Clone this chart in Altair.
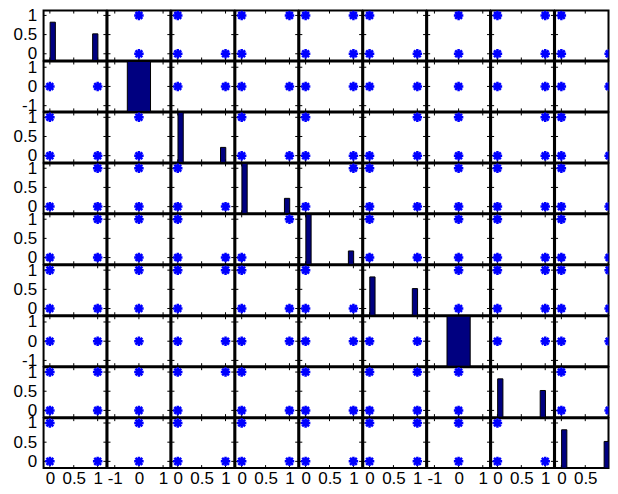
import altair as alt
import pandas as pd

# ---- data (MATLAB-style plotmatrix of 9 variables) ----
NVAR = 9
is_const = [False, True, False, False, False, False, True, False, False]
# histogram counts: bin at 0 and bin at 1 (constant vars: one bar centred on 0)
hist_zero = [23, 39, 30, 30, 30, 23, 39, 23, 23]
hist_one = [16, 0, 9, 9, 8, 16, 0, 16, 16]
hist_top = [30, 39, 30, 30, 30, 30, 39, 30, 30]
# bars of the 0/1 histograms (bin edges) and of the constant ones
bin_lo = [0.005, 0.895]
bin_hi = [0.115, 1.005]
const_bin = [-0.48, 0.48]
# scatter cells: flags for corners (x,y) = (0,0), (1,0), (0,1), (1,1); "-" = diagonal
patterns = [
    ["-", "1010", "1110", "1011", "1111", "1110", "1010", "1111", "1110"],
    ["1100", "-", "1100", "1100", "1100", "1100", "1000", "1100", "1100"],
    ["1110", "1010", "-", "1110", "1110", "1101", "1010", "1101", "1110"],
    ["1101", "1010", "1110", "-", "1001", "1110", "1010", "1110", "1110"],
    ["1101", "1010", "1110", "1001", "-", "1110", "1010", "1110", "1110"],
    ["1110", "1010", "1011", "1110", "1110", "-", "1010", "1111", "1111"],
    ["1100", "1000", "1100", "1100", "1100", "1100", "-", "1100", "1100"],
    ["1111", "1010", "1011", "1110", "1110", "1111", "1010", "-", "1110"],
    ["1110", "1010", "1110", "1110", "1110", "1111", "1010", "1110", "-"],
]
corner_x = [0, 1, 0, 1]
corner_y = [0, 0, 1, 1]
bin_ticks = [0, 0.5, 1]
const_ticks = [-1, 0, 1]

# ---- styling / geometry ----
W, H = 62.9, 50.0
W_LAST = 53.5          # last column is cut off by the window edge in the reference
X0, XSPAN = -0.132, 1.315
BIN_Y = [-0.175, 1.127]
CONST_D = [-1.3, 1.3]
FONT = "Liberation Sans"
STAR = "M-1,0L1,0M0,-1L0,1M-0.72,-0.72L0.72,0.72M-0.72,0.72L0.72,-0.72"
LBL = "datum.value < 0 ? '-' + format(-datum.value, '~g') : format(datum.value, '~g')"


def make_axis(vals, pad, last=False):
    kw = dict(values=vals, labelExpr=LBL, ticks=False, domain=False, grid=False,
              labelFont=FONT, labelFontSize=17, labelColor="black",
              labelPadding=pad, labelOverlap=False, labelBound=False,
              labelFlush=False, title=None)
    if last:
        kw["labelAlign"] = alt.ExprRef(expr="datum.value == 1 ? 'right' : 'center'")
        kw["labelOffset"] = alt.ExprRef(expr="datum.value == 1 ? -1 : 0")
    return alt.Axis(**kw)


def make_panel(i, j):
    last = j == NVAR - 1
    w = W_LAST if last else W
    if is_const[j]:
        xd = CONST_D
    else:
        xd = [X0, X0 + XSPAN * w / W]
    yd = CONST_D if is_const[i] else BIN_Y
    xt = const_ticks if is_const[j] else bin_ticks
    yt = const_ticks if is_const[i] else bin_ticks
    xaxis = make_axis(xt, 2, last) if i == NVAR - 1 else None
    yaxis = make_axis(yt, 7) if j == 0 else None
    xs = alt.Scale(domain=xd, nice=False, zero=False)
    ys = alt.Scale(domain=yd, nice=False, zero=False)
    dxt = pd.DataFrame({"t": xt})
    dyt = pd.DataFrame({"t": yt})
    X = alt.X("t:Q", scale=xs, axis=xaxis)
    Y = alt.Y("t:Q", scale=ys, axis=yaxis)
    rule = dict(color="black", strokeWidth=1, clip=last)
    ticks = [
        alt.Chart(dxt).mark_rule(**rule).encode(x=X, y=alt.value(0), y2=alt.value(3)),
        alt.Chart(dxt).mark_rule(**rule).encode(x=X, y=alt.value(H), y2=alt.value(H - 3)),
        alt.Chart(dyt).mark_rule(**rule).encode(y=Y, x=alt.value(0), x2=alt.value(3)),
    ]
    if not last:
        ticks.append(alt.Chart(dyt).mark_rule(**rule).encode(y=Y, x=alt.value(w), x2=alt.value(w - 3)))
    base = alt.layer(*ticks)
    if i == j:
        if is_const[i]:
            dh = pd.DataFrame({"x0": [const_bin[0]], "x1": [const_bin[1]], "c": [hist_zero[i]]})
        else:
            dh = pd.DataFrame({"x0": bin_lo, "x1": bin_hi, "c": [hist_zero[i], hist_one[i]]})
        bars = alt.Chart(dh).mark_bar(color="#000080", stroke="black", strokeWidth=1, clip=last).encode(
            x=alt.X("x0:Q", scale=xs, axis=xaxis), x2="x1:Q",
            y=alt.Y("c:Q", scale=alt.Scale(domain=[0, hist_top[i]], nice=False, zero=True), axis=None),
            y2=alt.datum(0),
        )
        chart = alt.layer(base, bars).resolve_scale(y="independent")
    else:
        code = patterns[i][j]
        pts = pd.DataFrame({
            "px": [corner_x[k] for k in range(4) if code[k] == "1"],
            "py": [corner_y[k] for k in range(4) if code[k] == "1"],
        })
        dots = alt.Chart(pts).mark_point(shape=STAR, filled=False, color="#0000ff",
                                         strokeWidth=2.5, size=90, opacity=1, clip=last).encode(
            x=alt.X("px:Q", scale=xs, axis=xaxis),
            y=alt.Y("py:Q", scale=ys, axis=yaxis),
        )
        chart = alt.layer(base, dots)
    return chart.properties(width=w, height=H)


panels = [make_panel(i, j) for i in range(NVAR) for j in range(NVAR)]
chart = alt.concat(*panels, columns=NVAR, spacing=1, bounds="flush").properties(
    padding={"left": 3.6, "top": -3.7, "right": 0, "bottom": 0},
    background="white",
).configure_view(stroke="black", strokeWidth=2)

chart.save("out.html", embed_options={"renderer": "svg", "actions": False})
